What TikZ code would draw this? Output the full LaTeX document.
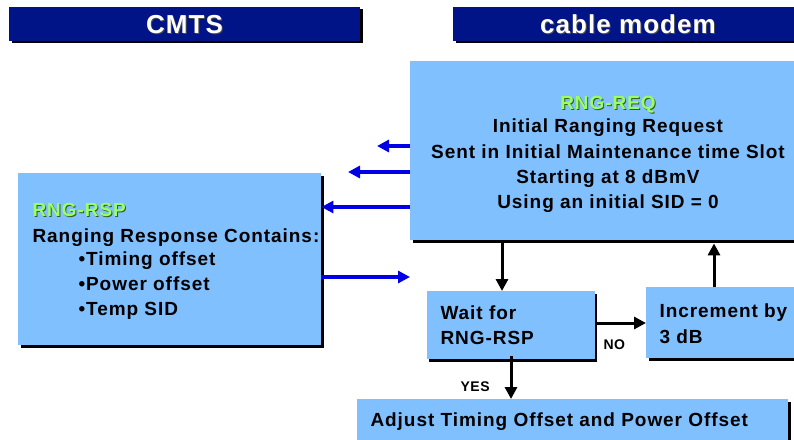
\documentclass[tikz,border=0pt]{standalone}
\usepackage{fontspec}
\setmainfont{Liberation Sans}
\newfontfamily\spacedfont[LetterSpace=5]{Liberation Sans}
\newfontfamily\headfont[LetterSpace=4]{Liberation Sans}
\usetikzlibrary{arrows.meta}
\definecolor{navy}{HTML}{001487}
\definecolor{skyfill}{HTML}{80C0FF}
\definecolor{lime}{HTML}{99FF66}
\definecolor{limeshade}{HTML}{3A5A20}
\definecolor{wireblue}{HTML}{0000E6}
\tikzset{
  headbox/.style={fill=navy, draw=none, anchor=north west, inner sep=0pt},
  panel/.style={fill=skyfill, draw=none, anchor=north west, inner sep=0pt},
  shade/.style={fill=black, draw=none, anchor=north west, inner sep=0pt},
  headtxt/.style={text=white, font=\headfont\fontsize{26}{28}\selectfont\bfseries, anchor=base},
  bodytxt/.style={text=black, font=\spacedfont\fontsize{19}{22}\selectfont\bfseries, anchor=base},
  tagtxt/.style={text=lime, font=\spacedfont\fontsize{19}{22}\selectfont\bfseries, anchor=base},
  smalltxt/.style={text=black, font=\headfont\fontsize{14}{16}\selectfont\bfseries, anchor=base},
  msg/.style={draw=wireblue, line width=3.2pt, -{Triangle[length=12pt,width=12pt]}},
  flow/.style={draw=black, line width=3pt, -{Triangle[length=12pt,width=12pt]}},
}
\begin{document}
\begin{tikzpicture}[x=1pt,y=-1pt]
\useasboundingbox (0,0) rectangle (794,439);

% ---- headers ----
\node[shade, minimum width=351pt, minimum height=34pt] (cmtsS) at (12,9) {};
\node[headbox, minimum width=351pt, minimum height=34pt] (cmts) at (9,7) {};
\node[headtxt, text=black!70] (cmtsTs) at (185.5,34) {CMTS};
\node[headtxt] (cmtsT) at (184.5,33) {CMTS};

\node[shade, minimum width=350pt, minimum height=34pt] (cmS) at (456,9) {};
\node[headbox, minimum width=350pt, minimum height=34pt] (cm) at (453,7) {};
\node[headtxt, text=black!70] (cmTs) at (629,34) {cable modem};
\node[headtxt] (cmT) at (628,33) {cable modem};

% ---- ranging request (cable modem) ----
\node[shade, minimum width=392pt, minimum height=179pt] (reqS) at (413,64) {};
\node[panel, minimum width=392pt, minimum height=179pt] (req) at (410,61) {};
\node[tagtxt, text=limeshade] (reqTagS) at (609,110) {RNG-REQ};
\node[tagtxt] (reqTag) at (608,109) {RNG-REQ};
\node[bodytxt] (reqL1) at (608,132) {Initial Ranging Request};
\node[bodytxt] (reqL2) at (608,158) {Sent in Initial Maintenance time Slot};
\node[bodytxt] (reqL3) at (608,183) {Starting at 8 dBmV};
\node[bodytxt] (reqL4) at (608,208) {Using an initial SID = 0};

% ---- ranging response (CMTS) ----
\node[shade, minimum width=303pt, minimum height=172pt] (rspS) at (21,176) {};
\node[panel, minimum width=303pt, minimum height=172pt] (rsp) at (18,173) {};
\node[tagtxt, text=limeshade, anchor=base west] (rspTagS) at (30,217) {RNG-RSP};
\node[tagtxt, anchor=base west] (rspTag) at (29,216) {RNG-RSP};
\node[bodytxt, anchor=base west] (rspL1) at (29,242) {Ranging Response Contains:};
\node[bodytxt, anchor=base west] (rspL2) at (75,265) {•Timing offset};
\node[bodytxt, anchor=base west] (rspL3) at (75,290) {•Power offset};
\node[bodytxt, anchor=base west] (rspL4) at (75,315) {•Temp SID};

% ---- wait / increment / adjust ----
\node[shade, minimum width=168pt, minimum height=68pt] (waitS) at (429,294) {};
\node[panel, minimum width=168pt, minimum height=68pt] (wait) at (427,291) {};
\node[bodytxt, anchor=base west] (waitL1) at (437,319) {Wait for};
\node[bodytxt, anchor=base west] (waitL2) at (437,344) {RNG-RSP};

\node[shade, minimum width=160pt, minimum height=71pt] (incS) at (649,290) {};
\node[panel, minimum width=160pt, minimum height=71pt] (inc) at (646,287) {};
\node[bodytxt, anchor=base west] (incL1) at (656,317) {Increment by};
\node[bodytxt, anchor=base west] (incL2) at (656,343) {3 dB};

\node[shade, minimum width=431pt, minimum height=50pt] (adjS) at (360,402) {};
\node[panel, minimum width=431pt, minimum height=50pt] (adj) at (357,399) {};
\node[bodytxt, anchor=base west] (adjL) at (367,426) {Adjust Timing Offset and Power Offset};

\node[smalltxt, anchor=base west] (noL) at (600,349) {NO};
\node[smalltxt, anchor=base west] (yesL) at (457,391) {YES};

% ---- message arrows ----
\coordinate (m1) at (377,146);
\coordinate (m2) at (348,172);
\draw[msg] (req.west |- m1) -- (m1);
\draw[msg] (req.west |- m2) -- (m2);
\draw[msg] (req.west |- 0,207) -- (rsp.east |- 0,207);
\coordinate (m4) at (410,277);
\draw[msg] (rsp.east |- m4) -- (m4);

% ---- flow arrows ----
\draw[flow] (req.south -| 502,0) -- (wait.north -| 502,0);
\draw[flow] (inc.north -| 714,0) -- ([yshift=-3pt]req.south -| 714,0);
\draw[flow] ([xshift=2pt]wait.east |- 0,323) -- (inc.west |- 0,323);
\draw[flow] ([yshift=3pt]wait.south -| 511,0) -- (adj.north -| 511,0);
\end{tikzpicture}
\end{document}
